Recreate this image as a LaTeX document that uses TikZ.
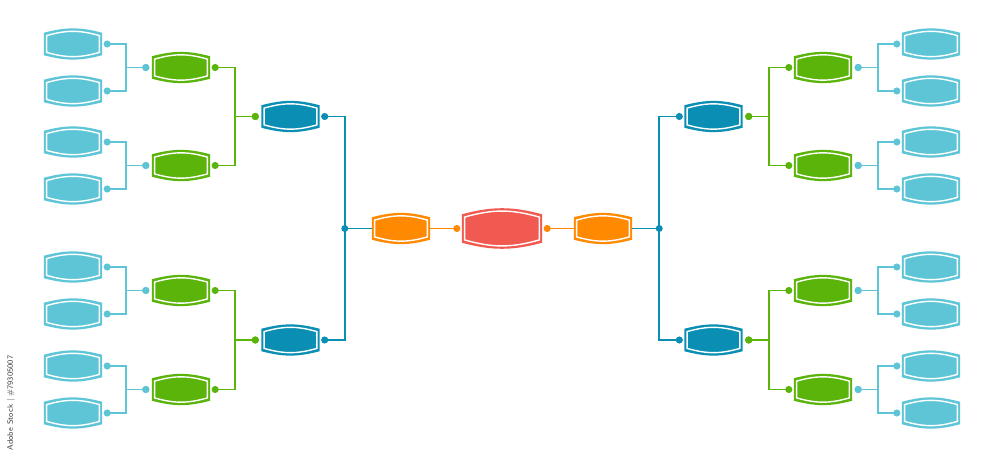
\documentclass[tikz,border=0pt]{standalone}
\usepackage{tikz}
\usetikzlibrary{arrows.meta,calc}
\definecolor{leafblue}{RGB}{94,197,215}
\definecolor{sprout}{RGB}{90,180,10}
\definecolor{deepblue}{RGB}{10,142,180}
\definecolor{tangerine}{RGB}{255,137,0}
\definecolor{coral}{RGB}{241,90,80}

\begin{document}
\begin{tikzpicture}[x=1pt,y=1pt,
    match/.style={inner sep=0pt,minimum width=58pt,minimum height=22pt,
      append after command={\pgfextra{
        \fill[#1] (\tikzlastnode.north west) to[bend left=15] (\tikzlastnode.north east)
          -- (\tikzlastnode.south east) to[bend left=15] (\tikzlastnode.south west) -- cycle;
        \filldraw[fill=#1,draw=white,line width=1.4pt]
          ([shift={(2.8,-2.8)}]\tikzlastnode.north west) to[bend left=16] ([shift={(-2.8,-2.8)}]\tikzlastnode.north east)
          -- ([shift={(-2.8,2.8)}]\tikzlastnode.south east) to[bend left=16] ([shift={(2.8,2.8)}]\tikzlastnode.south west) -- cycle;}}},
    final/.style={match=#1,minimum width=80pt,minimum height=28pt},
    link/.style={draw=#1,line width=1.8pt,{Circle[length=7pt]}-{Circle[length=7pt]}},
    tail/.style={draw=#1,line width=1.8pt,-{Circle[length=7pt]}}]
  \path[fill=white,use as bounding box] (0,0) rectangle (1000,463);

  \node[final=coral] (cup) at (502,234.5) {};
  \foreach \d/\s/\a/\b in {1/L/east/west,-1/R/west/east}{
    \node[match=tangerine] (\s semi) at (502-\d*101,234.5) {};
    \foreach \j/\y in {1/346.5,2/123}
      \node[match=deepblue] (\s q\j) at (502-\d*211.5,\y) {};
    \foreach \j/\y in {1/395.5,2/297.5,3/172.5,4/73.5}
      \node[match=sprout] (\s r\j) at (502-\d*321,\y) {};
    \foreach \j/\y in {1/419,2/372,3/321,4/274,5/196,6/149,7/97,8/50}
      \node[match=leafblue] (\s p\j) at (502-\d*429,\y) {};
    % first round into second round
    \foreach \j in {1,...,8}{
      \pgfmathtruncatemacro\k{(\j+1)/2}
      \draw[link=leafblue] ([xshift=\d*1.5]\s p\j.\a) -| ([xshift=\d*(-26)]\s r\k.\b) -- ([xshift=\d*(-2.5)]\s r\k.\b);
    }
    % second round into semis
    \foreach \j in {1,...,4}{
      \pgfmathtruncatemacro\k{(\j+1)/2}
      \draw[link=sprout] ([xshift=\d*1.5]\s r\j.\a) -| ([xshift=\d*(-26.5)]\s q\k.\b) -- ([xshift=\d*(-2.5)]\s q\k.\b);
    }
    % semis into final
    \coordinate (\s fork) at ([xshift=\d*(-27)]\s semi.\b);
    \draw[link=deepblue] ([xshift=\d*1.5]\s q1.\a) -| (\s fork) |- ([xshift=\d*1.5]\s q2.\a);
    \draw[deepblue,line width=1.8pt] (\s fork) -- (\s semi.\b);
    \fill[deepblue] (\s fork) circle (3.5);
    \draw[tail=tangerine] (\s semi.\a) -- ([xshift=\d*(-1.5)]cup.\b);
  }

  \node[rotate=90,font=\sffamily\fontsize{8}{9}\selectfont,text=black!75] (stamp) at (11,60) {Adobe Stock \textbar\ \#79305007};
\end{tikzpicture}
\end{document}
